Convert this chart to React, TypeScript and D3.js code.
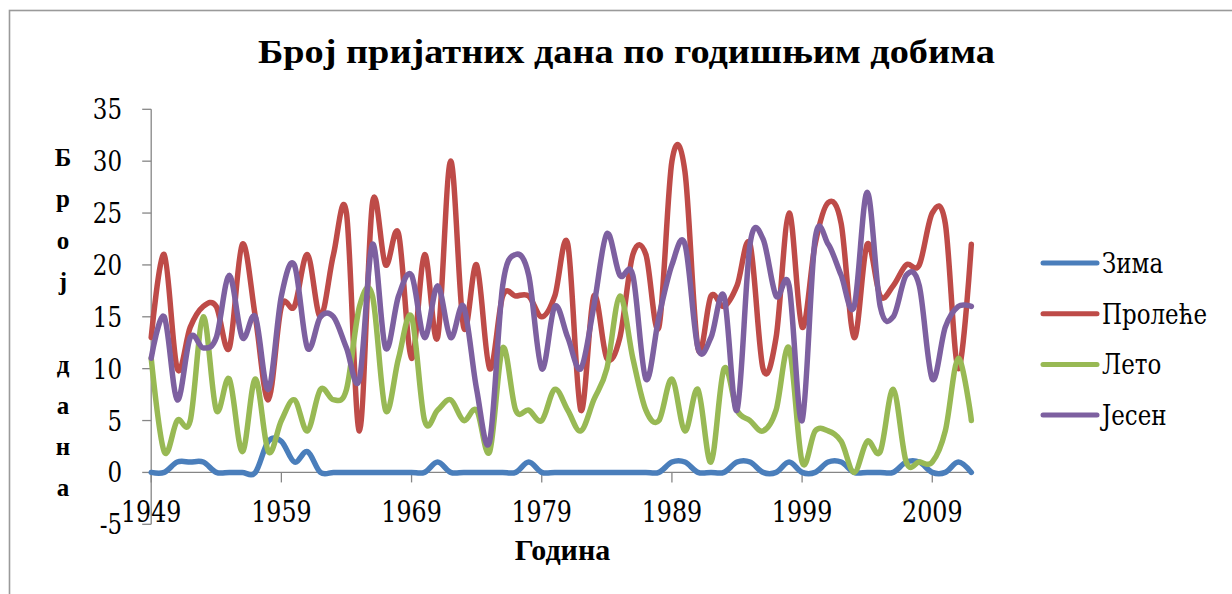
import React from "react";
import * as d3 from "d3";

const years: number[] = Array.from({ length: 64 }, (_, i) => 1949 + i);

const zima: number[] = [
  0, 0, 1, 1, 1, 0, 0, 0, 0, 3, 3, 1, 2, 0, 0, 0, 0, 0, 0, 0, 0, 0, 1, 0, 0, 0, 0, 0, 0, 1, 0, 0,
  0, 0, 0, 0, 0, 0, 0, 0, 1, 1, 0, 0, 0, 1, 1, 0, 0, 1, 0, 0, 1, 1, 0, 0, 0, 0, 1, 1, 0, 0, 1, 0,
];
const prolece: number[] = [
  13, 21, 10, 14, 16, 16, 12, 22, 15, 7, 16, 16, 21, 15, 21, 25, 4, 26, 20, 23, 11, 21, 13, 30, 14, 20, 10, 17, 17, 17, 15, 17,
  22, 6, 17, 11, 13, 21, 21, 14, 30, 29, 12, 17, 16, 18, 22, 10, 13, 25, 14, 22, 26, 24, 13, 22, 17, 18, 20, 20, 25, 24, 10, 22,
];
const leto: number[] = [
  11, 2, 5, 5, 15, 6, 9, 2, 9, 2, 5, 7, 4, 8, 7, 8, 16, 17, 6, 11, 15, 5, 6, 7, 5, 6, 2, 12, 6, 6, 5, 8,
  6, 4, 7, 10, 17, 11, 6, 5, 9, 4, 8, 1, 10, 6, 5, 4, 6, 12, 1, 4, 4, 3, 0, 3, 2, 8, 1, 1, 1, 4, 11, 5,
];
const jesen: number[] = [
  11, 15, 7, 13, 12, 13, 19, 13, 15, 8, 17, 20, 12, 15, 15, 12, 9, 22, 12, 17, 19, 13, 18, 13, 16, 8, 3, 18, 21, 19, 10, 16,
  13, 10, 16, 23, 19, 19, 9, 15, 20, 22, 12, 13, 17, 6, 22, 22.5, 17, 18, 5, 22.5, 22, 19, 16, 27, 16, 15, 19, 18, 9, 14, 16, 16,
];

const seriesNames: string[] = ["Зима", "Пролеће", "Лето", "Јесен"];
const seriesColors: string[] = ["#4A7EBB", "#BE4B48", "#98B954", "#7D60A0"];
const yTicks: number[] = [-5, 0, 5, 10, 15, 20, 25, 30, 35];
const xTickYears: number[] = [1949, 1959, 1969, 1979, 1989, 1999, 2009];
const title = "Број пријатних дана по годишњим добима";
const yTitleLetters: string[] = ["Б", "р", "о", "ј", "", "д", "а", "н", "а"];
const xTitle = "Година";

const BOLD_FONT = "'Liberation Serif', 'DejaVu Serif', serif";
const REG_FONT = "'DejaVu Serif', serif";

function SText(props: {
  x: number;
  y: number;
  size: number;
  sx: number;
  anchor?: "start" | "middle" | "end";
  dy?: string;
  children: React.ReactNode;
}) {
  return (
    <text
      transform={`translate(${props.x},${props.y}) scale(${props.sx},1)`}
      fontFamily={REG_FONT}
      fontSize={props.size}
      textAnchor={props.anchor || "start"}
      dy={props.dy}
      fill="#000"
    >
      {props.children}
    </text>
  );
}

export default function App() {
  const W = 1232;
  const H = 594;
  const x = d3.scaleLinear().domain([1949, 2012]).range([151.2, 151.2 + 63 * 13.018]);
  const y = d3.scaleLinear().domain([-5, 35]).range([524.3, 109.3]);
  const allSeries = [zima, prolece, leto, jesen];
  const line = d3
    .line<number>()
    .x((_, i) => x(years[i]))
    .y((d) => y(d))
    .curve(d3.curveCardinal.tension(0));
  const axisColor = "#868686";
  const legendY0 = 263;
  const legendStep = 50.7;
  const regSize = 28;
  const regSx = 0.82;

  return (
    <div style={{ position: "absolute", left: 0, top: 0 }}>
      <svg width={W} height={H} style={{ display: "block", background: "#fff" }}>
        <rect x={9.5} y={10.5} width={1400} height={800} fill="#fff" stroke="#9a9a9a" strokeWidth={1.6} />
        <text fontFamily={BOLD_FONT} x={626.5} y={63} textAnchor="middle" fontSize={33} fontWeight="bold" textLength={737} lengthAdjust="spacingAndGlyphs">
          {title}
        </text>

        <line x1={x(1949)} x2={x(1949)} y1={y(35)} y2={y(-5)} stroke={axisColor} strokeWidth={1.3} />
        {yTicks.map((t) => (
          <g key={"yt" + t}>
            <line x1={x(1949) - 9} x2={x(1949)} y1={y(t)} y2={y(t)} stroke={axisColor} strokeWidth={1.3} />
            <SText x={122} y={y(t) + 10} size={regSize} sx={regSx} anchor="end">
              {t}
            </SText>
          </g>
        ))}

        <line x1={x(1949)} x2={x(2012)} y1={y(0)} y2={y(0)} stroke={axisColor} strokeWidth={1.3} />
        {xTickYears.map((yr) => (
          <g key={"xt" + yr}>
            <line x1={x(yr)} x2={x(yr)} y1={y(0)} y2={y(0) + 10} stroke={axisColor} strokeWidth={1.3} />
            <SText x={x(yr)} y={522} size={regSize + 1} sx={regSx} anchor="middle">
              {yr}
            </SText>
          </g>
        ))}

        {allSeries.map((s, k) => (
          <path
            key={"s" + k}
            d={line(s) || ""}
            fill="none"
            stroke={seriesColors[k]}
            strokeWidth={5.5}
            strokeLinejoin="round"
            strokeLinecap="round"
          />
        ))}

        {yTitleLetters.map((c, i) => (
          <text fontFamily={BOLD_FONT} key={"yl" + i} x={63} y={166 + i * 41.3} textAnchor="middle" fontSize={25} fontWeight="bold">
            {c}
          </text>
        ))}

        <text fontFamily={BOLD_FONT} x={562.5} y={560} textAnchor="middle" fontSize={30} fontWeight="bold">
          {xTitle}
        </text>

        {seriesNames.map((n, k) => (
          <g key={"lg" + k}>
            <line
              x1={1043}
              x2={1097}
              y1={legendY0 + k * legendStep}
              y2={legendY0 + k * legendStep}
              stroke={seriesColors[k]}
              strokeWidth={5}
              strokeLinecap="round"
            />
            <SText x={1102} y={legendY0 + k * legendStep + 10} size={regSize} sx={regSx}>
              {n}
            </SText>
          </g>
        ))}
      </svg>
    </div>
  );
}
